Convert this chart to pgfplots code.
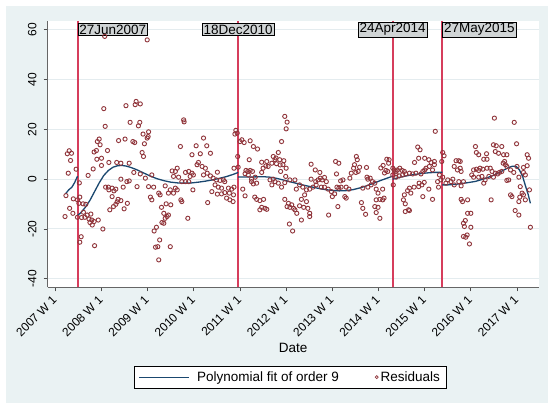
\documentclass[border=0pt]{standalone}
\usepackage{pgfplots}
\pgfplotsset{compat=1.18}
\usepackage{fontspec}
\setmainfont{Liberation Sans}
\definecolor{bgc}{RGB}{234,242,243}
\definecolor{gridc}{RGB}{228,236,239}
\definecolor{navyc}{RGB}{26,71,111}
\definecolor{maroonc}{RGB}{144,53,59}
\definecolor{vlinec}{RGB}{214,61,92}
\definecolor{boxc}{RGB}{208,212,213}
\newcommand\tf{\fontsize{12bp}{14bp}\selectfont}
\newcommand\lf{\fontsize{13.5bp}{15bp}\selectfont}
\begin{document}
\begin{tikzpicture}
\path[use as bounding box] (-47.7bp,-115.7bp) rectangle (500.3bp,287.3bp);
\fill[white] (-47.7bp,-115.7bp) rectangle (500.3bp,287.3bp);
\fill[bgc] (-41.7bp,-115.7bp) rectangle (500.3bp,281.3bp);
\begin{axis}[
  scale only axis, width=491bp, height=266.6bp,
  xmin=2006.835, xmax=2017.47, ymin=-43.4, ymax=63.6,
  axis x line*=bottom, axis y line*=left,
  x axis line style={-}, y axis line style={-},
  axis line style={black!60, line width=1bp},
  axis background/.style={fill=white},
  xtick={2007,2008,2009,2010,2011,2012,2013,2014,2015,2016,2017},
  xticklabels={2007 W 1,2008 W 1,2009 W 1,2010 W 1,2011 W 1,2012 W 1,2013 W 1,2014 W 1,2015 W 1,2016 W 1,2017 W 1},
  ytick={-40,-20,0,20,40,60},
  yticklabels={-40,-20,0,20,40,60},
  tick align=outside, major tick length=4bp,
  tick style={black!70, line width=0.8bp},
  ymajorgrids, grid style={gridc, line width=1bp},
  xticklabel style={rotate=45, anchor=east, font=\tf, inner sep=1bp},
  xticklabel shift=6bp,
  yticklabel style={rotate=90, anchor=south, font=\tf, inner sep=1bp},
  yticklabel shift=6bp,
  xlabel={Date},
  xlabel style={at={(axis description cs:0.5,0)}, anchor=center, yshift=-60.4bp, font=\lf},
  legend style={at={(axis description cs:0.5,0)}, anchor=center, yshift=-89.9bp, xshift=-2.9bp,
    draw=black, line width=0.6bp, fill=white, font=\lf, inner xsep=4bp, inner ysep=3bp},
  legend columns=2, legend cell align=left,
]
\addlegendimage{legend image code/.code={\draw[navyc, line width=1.3bp] (0bp,0bp) -- (50bp,0bp);}}
\addlegendentry{\hspace*{5bp}Polynomial fit of order 9\hspace*{34bp}}
\addlegendimage{legend image code/.code={\draw[maroonc, line width=0.7bp] (1.5bp,0bp) circle (1.5bp);}}
\addlegendentry{Residuals}

% residuals
\addplot[only marks, mark=o, mark size=2.1bp, mark options={maroonc, line width=0.9bp}, forget plot] coordinates {
(2008.05,28.3)(2008.53,29.5)(2008.62,22.8)(2008.08,21.2)(2007.95,16.1)(2007.91,15.1)(2007.97,13.8)(2008.37,15.5)(2008.51,16.1)(2007.84,10.9)(2007.89,11.5)(2008.13,11.5)(2007.30,11.4)(2007.35,10.4)(2007.26,10.2)(2007.33,7.5)(2007.90,8.0)(2008.00,8.4)(2008.16,6.7)(2008.33,6.7)(2008.42,6.4)(2008.60,6.4)(2008.00,5.5)(2007.82,4.1)(2007.45,4.0)(2007.28,2.4)(2007.71,1.5)(2008.42,0)(2008.60,-0.7)(2008.55,-1)(2007.52,-1.5)(2008.47,-3.2)(2008.09,-3.2)(2008.15,-3.2)(2008.23,-3.6)(2008.31,-4)(2008.16,-4.3)(2008.27,-4.7)(2008.23,-7)(2008.36,-8.1)(2008.42,-8.6)(2008.34,-9.1)(2008.31,-10.1)(2008.26,-11)(2008.18,-12.3)(2008.49,-11.9)(2008.56,-9.7)(2007.23,-6.6)(2007.39,-7.9)(2007.48,-8.3)(2007.53,-7.2)(2007.51,-9.7)(2007.60,-9.9)(2007.66,-10.1)(2007.31,-11.7)(2007.38,-13.7)(2007.21,-15)(2007.61,-13.3)(2007.69,-14.4)(2007.77,-14)(2007.64,-15.3)(2007.73,-16)(2007.79,-16.4)(2007.75,-17.4)(2007.84,-17)(2007.80,-18.4)(2007.93,-16.4)(2007.57,-15.4)(2007.48,-15.3)(2008.03,-20)(2007.56,-23.1)(2007.53,-25.3)(2007.85,-26.7)
(2008.07,57.3)(2008.99,55.9)(2008.75,31.2)(2008.84,30.2)(2008.73,29.9)(2008.80,21.4)(2008.83,22.8)(2008.90,18.1)(2009.02,19.0)(2008.93,14.2)(2008.99,16.5)(2009.01,17.1)(2008.68,15.1)(2008.72,14.7)
(2009.78,23.8)(2009.79,23.0)(2008.88,10.7)(2008.91,9.1)(2009.71,13.1)(2010.05,13.4)(2010.21,16.5)(2010.28,13.4)(2009.96,9.8)(2010.14,10.2)(2010.36,10.4)(2010.10,6.7)(2010.07,5.8)(2010.18,5.1)(2010.25,4.4)
(2008.70,2.7)(2008.84,2.1)(2008.95,0.4)(2009.09,1.7)(2009.53,3.3)(2009.64,4.4)(2009.60,3.1)(2009.56,1.1)(2009.67,0.8)(2009.82,2.7)(2009.89,3.1)(2009.96,2.4)(2009.92,1.1)(2009.99,1.7)(2010.21,1.7)(2010.29,2.4)(2010.36,1.3)(2010.42,0.4)(2009.74,-1)(2009.82,-1)(2009.89,-1)
(2008.77,-3)(2009.02,-3)(2009.13,-3.2)(2009.24,-5.6)(2009.27,-6.3)(2009.06,-7.2)(2009.09,-8.3)(2009.38,-2.7)(2009.49,-4.3)(2009.60,-3.6)(2009.45,-5.6)(2009.56,-5.6)(2009.64,-4.3)(2009.98,-4.3)(2010.39,-5)(2009.72,-8.3)(2009.74,-9)
(2009.30,-11.3)(2009.40,-9.9)(2009.50,-10.3)(2009.35,-13.7)(2009.45,-14.4)(2009.38,-15.7)(2009.42,-15)(2009.35,-17.7)(2009.31,-17.4)(2009.19,-19.3)(2009.14,-20.8)(2009.26,-24.4)(2009.17,-27.3)(2009.22,-27.1)(2009.49,-27.1)(2009.87,-15.7)(2010.30,-9.4)(2009.24,-32.4)
(2011.97,25.2)(2012.02,22.9)(2012.00,20.2)(2010.91,19.6)(2010.94,18.5)(2010.89,18.1)(2011.04,15.8)(2011.09,14.7)(2011.22,15.4)(2011.00,15.1)(2011.29,13.1)(2011.38,12.1)(2011.90,15.1)(2010.95,9.1)(2011.83,10.7)(2011.20,7.8)
(2011.47,6.8)(2011.58,7.1)(2011.69,6.4)(2011.76,7.8)(2011.79,6.2)(2011.72,9.1)(2011.95,7.4)(2011.87,5.7)(2011.61,5.1)(2011.56,5.3)(2011.50,4.4)(2011.47,2.7)
(2010.87,4.4)(2010.96,4.8)(2011.13,3.5)(2011.17,3.1)(2011.22,3.5)(2011.27,3.1)(2011.11,2.2)(2011.18,1.7)(2010.51,2.8)
(2010.49,-0.3)(2010.57,-0.5)(2010.64,-0.3)(2010.67,-1)(2010.46,-2.3)(2010.53,-3.2)(2010.60,-3.6)(2010.51,-6.0)
(2010.75,-3.6)(2010.82,-4)(2010.87,-3.2)(2010.77,-5.6)(2010.86,-6.3)(2010.71,-7.6)(2010.78,-8.3)(2010.85,-9)(2010.67,-5.4)(2010.60,-5.9)
(2011.06,-4)(2011.11,-6.7)(2011.25,0)(2011.29,-1.9)(2011.36,-1.6)(2011.25,-1)(2011.33,0.8)
(2011.65,-0.3)(2011.72,0)(2011.76,-1)(2011.69,-2.3)(2011.83,-1.6)(2011.90,-3.2)(2011.97,-1.4)(2012.19,-0.3)
(2011.32,-7.2)(2011.36,-8.1)(2011.43,-8.6)(2011.51,-8.1)(2011.47,-11.3)(2011.54,-11.7)(2011.58,-12.1)(2011.43,-12.3)
(2011.97,-8.1)(2012.05,-9.7)(2012.12,-10.3)(2012.16,-11.7)(2012.08,-11.3)(2012.19,-12.3)(2012.23,-13.7)(2012.02,-11)
(2012.07,-18)(2012.14,-20.8)
(2011.78,8.5)(2011.86,7.8)(2011.93,5.8)(2012.00,4.4)(2011.88,3.1)(2011.99,1.1)(2012.08,-0.3)
(2012.54,6)(2012.63,3.7)(2012.73,2.7)(2013.07,7.1)(2013.14,6.4)(2013.52,9.1)(2013.54,7.8)(2013.48,5.8)(2013.59,4.8)(2013.74,4.7)(2013.46,4.4)(2013.56,3.1)(2013.51,2.7)(2013.41,2.4)(2013.38,0.4)(2013.23,-0.3)(2013.18,-0.7)(2013.09,2.1)
(2012.54,0)(2012.64,-1)(2012.69,-0.3)(2012.74,0.4)(2012.78,-0.3)(2012.83,0.7)(2012.87,-1)(2012.65,-2.3)(2012.76,-3.2)(2012.83,-3.2)(2012.58,-3.2)(2012.51,-4)(2012.44,-4.3)(2012.36,-3.2)(2012.29,-2.3)(2012.22,-4)
(2012.40,-6.3)(2012.33,-8.1)(2012.44,-9)(2012.29,-10.7)(2012.38,-11.3)(2012.47,-11.7)(2012.51,-13.7)(2012.33,-16.4)(2012.51,-15)
(2012.91,-4)(2012.98,-5)(2013.00,-7)(2013.05,-5.9)(2013.10,-3.2)(2013.14,-3.6)(2013.19,-3.2)(2013.30,-3.2)(2013.36,-4)(2013.27,-7)(2013.30,-7.6)
(2012.92,-14.4)(2013.12,-11)(2013.63,-9.4)(2013.66,-11.7)(2013.72,-14.1)
(2013.66,-3.6)(2013.77,-3.2)(2013.84,-2.3)(2013.77,0)(2013.75,0.8)(2013.82,0.4)(2013.87,-1)(2013.92,-1.6)(2013.95,-4)(2013.99,-5.6)(2014.03,-8.1)(2013.95,-8.3)(2013.92,-11)(2013.99,-11.3)(2013.95,-13.4)(2014.03,-15.7)
(2015.23,19.2)(2014.85,12.9)(2014.90,11.8)
(2014.18,8)(2014.23,7.8)(2014.22,6.4)(2014.78,6.7)(2014.87,8.4)(2015.00,8.4)(2015.09,7.8)(2015.14,6.7)(2015.21,7.1)(2015.21,5.8)(2015.10,5.1)(2015.03,4.4)(2015.00,3.7)(2014.96,3.1)(2014.92,2.1)(2015.17,3.7)(2015.39,10.7)(2015.42,9.4)(2015.37,7.1)(2015.68,7.4)(2015.74,7.4)(2015.64,5.1)(2015.71,3.7)(2015.79,3.1)
(2014.16,3.5)(2014.20,3.1)(2014.31,4.4)(2014.34,3.7)(2014.38,3.1)(2014.41,3.7)(2014.46,4.4)(2014.51,3.5)(2014.56,3.1)(2014.31,1.7)(2014.38,2.1)(2014.45,1.3)(2014.52,1.7)(2014.59,2.1)(2014.67,2.4)(2014.74,2.1)(2014.81,2.4)(2014.32,-2.3)(2014.38,0.8)
(2014.05,4.5)(2014.10,5.5)(2014.13,2.5)
(2014.09,-4)(2014.12,-7.6)(2014.09,-8.3)
(2014.88,-1.6)(2014.94,-2.3)(2014.99,-1.3)(2014.87,-3)(2014.77,-3.2)(2014.67,-3.6)(2014.63,-4.6)(2014.70,-5.6)(2014.56,-6.3)(2014.96,-7)(2015.09,-4)(2015.17,-8.1)(2015.30,-3.2)(2015.28,-1)(2015.35,-0.3)(2015.39,0.8)(2015.32,1.7)(2015.46,-1.6)(2015.50,-0.3)(2015.57,-1)(2015.61,0)(2015.64,-2.3)(2015.74,-1)(2015.79,-2.7)
(2014.58,-9.9)(2014.65,-12.3)(2014.58,-13)(2014.67,-12.6)(2014.54,-8.3)
(2015.79,-8.1)(2015.82,-9)(2015.84,-17.7)(2015.86,-19)(2015.84,-23)
(2016.51,24.5)(2016.94,22.8)
(2016.10,13.1)(2016.49,13.8)(2016.55,13.4)(2016.67,13.1)(2016.99,14.2)(2016.12,10.7)(2016.17,9.8)(2016.34,10.2)(2016.28,8)(2016.53,11.1)(2016.60,10.4)(2016.71,9.8)(2016.78,9.8)(2017.22,9.8)(2017.25,8.4)(2016.35,8)(2016.73,7.1)(2016.70,6.4)
(2015.77,7.1)(2015.77,4.4)(2016.06,3.7)(2016.12,4)(2016.17,3.5)(2016.20,4.4)(2016.26,4)(2016.35,4.4)(2016.42,4.4)(2016.46,3.1)(2016.53,2.4)(2016.58,2.1)(2016.62,2.7)(2016.67,3.1)(2016.75,5.8)(2016.78,5.1)(2016.86,3.7)(2016.93,2.7)(2017.00,5.1)(2017.14,4.7)(2017.22,5.4)(2017.14,2.7)(2017.18,1.7)(2017.04,0.8)(2016.82,-0.3)(2016.78,-0.5)(2016.49,0.8)(2016.39,1.1)(2016.24,1.1)(2016.17,0.8)(2016.06,0.8)(2016.02,1.7)(2016.31,-0.3)(2016.28,-1.6)(2015.84,-1)
(2016.86,-6.3)(2016.89,-7)(2017.14,-6.3)(2017.11,-5.6)(2017.06,-7.2)(2017.04,-9)(2017.18,-8.3)(2016.44,-8.3)(2015.93,-8.3)(2016.96,-12.6)(2017.04,-14.4)(2017.27,-4.3)(2017.07,-3)(2017.29,-19.3)(2015.93,-13.7)(2016.00,-13.7)(2015.88,-16.6)(2016.00,-19.3)(2015.92,-22.4)(2015.89,-23.3)(2015.97,-26)
};

% vertical lines
\addplot[vlinec, line width=2bp, forget plot] coordinates {(2007.481,-43.4) (2007.481,63.6)};
\addplot[vlinec, line width=2bp, forget plot] coordinates {(2010.962,-43.4) (2010.962,63.6)};
\addplot[vlinec, line width=2bp, forget plot] coordinates {(2014.308,-43.4) (2014.308,63.6)};
\addplot[vlinec, line width=2bp, forget plot] coordinates {(2015.385,-43.4) (2015.385,63.6)};

% polynomial fit, piecewise
\addplot[navyc, line width=1.3bp, forget plot] coordinates {(2007.22,-5.9)(2007.29,-4.3)(2007.36,-3.2)(2007.42,-1.3)(2007.481,1.2)};
\addplot[navyc, line width=1.3bp, forget plot] coordinates {(2007.481,-14.6)(2007.55,-13.5)(2007.65,-11.3)(2007.75,-8.5)(2007.85,-5)(2007.95,-1.5)(2008.05,1.5)(2008.15,3.5)(2008.25,4.8)(2008.35,5.4)(2008.45,5.5)(2008.55,5.2)(2008.65,4.6)(2008.75,3.9)(2008.9,2.6)(2009.05,1.3)(2009.2,0.2)(2009.35,-0.6)(2009.5,-1.2)(2009.65,-1.5)(2009.8,-1.6)(2009.95,-1.5)(2010.1,-1.2)(2010.25,-0.8)(2010.4,-0.3)(2010.55,0.3)(2010.7,1.0)(2010.85,1.9)(2010.962,2.7)};
\addplot[navyc, line width=1.3bp, forget plot] coordinates {(2010.962,0.9)(2011.1,0.9)(2011.3,0.9)(2011.5,1.0)(2011.65,0.8)(2011.8,0.3)(2011.95,-0.4)(2012.1,-1.1)(2012.25,-1.8)(2012.4,-2.5)(2012.55,-3.1)(2012.7,-3.7)(2012.85,-4.2)(2013.0,-4.5)(2013.15,-4.7)(2013.3,-4.6)(2013.45,-4.2)(2013.6,-3.5)(2013.75,-2.6)(2013.9,-1.6)(2014.05,-0.5)(2014.2,0.5)(2014.308,1.2)};
\addplot[navyc, line width=1.3bp, forget plot] coordinates {(2014.308,0.0)(2014.45,0.7)(2014.6,1.3)(2014.75,1.8)(2014.9,2.2)(2015.05,2.5)(2015.2,2.7)(2015.385,2.8)};
\addplot[navyc, line width=1.3bp, forget plot] coordinates {(2015.385,-2.3)(2015.5,-2.3)(2015.7,-2.0)(2015.9,-1.5)(2016.1,-0.9)(2016.3,0.2)(2016.5,1.6)(2016.65,3.0)(2016.8,4.5)(2016.9,5.2)(2016.98,5.1)(2017.05,3.8)(2017.12,1.2)(2017.18,-2.5)(2017.24,-6)(2017.29,-9.7)};

% date labels
\node[draw=black, line width=0.5bp, fill=boxc, inner xsep=1.5bp, inner ysep=1.2bp, font=\lf, anchor=west] at (axis cs:2007.481,60) {27Jun2007};
\node[draw=black, line width=0.5bp, fill=boxc, inner xsep=1.5bp, inner ysep=1.2bp, font=\lf, anchor=center] at (axis cs:2010.962,60) {18Dec2010};
\node[draw=black, line width=0.5bp, fill=boxc, inner xsep=1.5bp, inner ysep=1.2bp, font=\lf, anchor=center] at (axis cs:2014.308,60) {24Apr2014};
\node[draw=black, line width=0.5bp, fill=boxc, inner xsep=1.5bp, inner ysep=1.2bp, font=\lf, anchor=west] at (axis cs:2015.385,60) {27May2015};
\end{axis}
\end{tikzpicture}
\end{document}
